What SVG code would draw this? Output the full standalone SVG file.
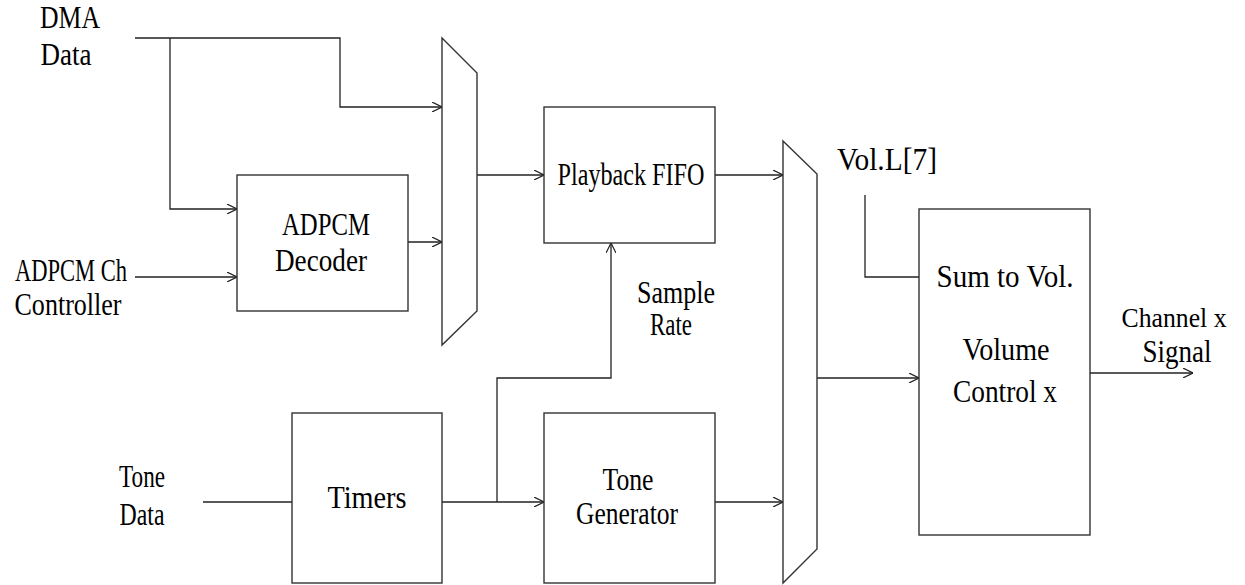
<svg xmlns="http://www.w3.org/2000/svg" width="1245" height="585" viewBox="0 0 1245 585">
<style>
.box{fill:#fff;stroke:#333;stroke-width:1.4}
.ln{fill:none;stroke:#222;stroke-width:1.3}
.t{font-family:"Liberation Serif","Times New Roman",serif;font-size:31px;fill:#000;text-anchor:middle}
.s{font-size:27px}
</style>
<defs>
<marker id="arr" viewBox="0 0 10 10" refX="10" refY="5" markerWidth="10" markerHeight="10" markerUnits="userSpaceOnUse" orient="auto">
<path d="M0,0 L10,5 L0,10" fill="none" stroke="#222" stroke-width="1.2"/>
</marker>
</defs>
<rect width="1245" height="585" fill="#fff"/>
<g id="connectors">
<path class="ln" d="M135,38 H340 V107 H442" marker-end="url(#arr)"/>
<path class="ln" d="M170,38 V209 H237" marker-end="url(#arr)"/>
<path class="ln" d="M135,277 H237" marker-end="url(#arr)"/>
<path class="ln" d="M408,242 H442" marker-end="url(#arr)"/>
<path class="ln" d="M477,175 H544" marker-end="url(#arr)"/>
<path class="ln" d="M715,175 H783" marker-end="url(#arr)"/>
<path class="ln" d="M203,502 H292"/>
<path class="ln" d="M442,502 H544" marker-end="url(#arr)"/>
<path class="ln" d="M497,502 V378 H611 V243" marker-end="url(#arr)"/>
<path class="ln" d="M715,502 H783" marker-end="url(#arr)"/>
<path class="ln" d="M817,378 H919" marker-end="url(#arr)"/>
<path class="ln" d="M865,195 V277 H919"/>
<path class="ln" d="M1090,373 H1193" marker-end="url(#arr)"/>
</g>
<g id="dma-data">
<text class="t" x="70" y="28" textLength="60" lengthAdjust="spacingAndGlyphs">DMA</text>
<text class="t" x="66" y="65" textLength="51" lengthAdjust="spacingAndGlyphs">Data</text>
</g>
<g id="adpcm-ch">
<text class="t" x="71" y="281" textLength="112" lengthAdjust="spacingAndGlyphs">ADPCM Ch</text>
<text class="t" x="68" y="315" textLength="107" lengthAdjust="spacingAndGlyphs">Controller</text>
</g>
<g id="adpcm-decoder">
<rect class="box" x="237" y="175" width="171" height="136"/>
<text class="t" x="326" y="235" textLength="88" lengthAdjust="spacingAndGlyphs">ADPCM</text>
<text class="t" x="321" y="271" textLength="92" lengthAdjust="spacingAndGlyphs">Decoder</text>
</g>
<g id="mux1">
<polygon class="box" points="442,38 477,73 477,311 442,345"/>
</g>
<g id="playback-fifo">
<rect class="box" x="544" y="107" width="171" height="136"/>
<text class="t" x="631" y="185" textLength="147" lengthAdjust="spacingAndGlyphs">Playback FIFO</text>
</g>
<g id="sample-rate">
<text class="t" x="676" y="303" textLength="78" lengthAdjust="spacingAndGlyphs">Sample</text>
<text class="t" x="671" y="335" textLength="42" lengthAdjust="spacingAndGlyphs">Rate</text>
</g>
<g id="tone-data">
<text class="t" x="142" y="487" textLength="46" lengthAdjust="spacingAndGlyphs">Tone</text>
<text class="t" x="142" y="525" textLength="45" lengthAdjust="spacingAndGlyphs">Data</text>
</g>
<g id="timers">
<rect class="box" x="292" y="413" width="150" height="170"/>
<text class="t" x="367" y="508" textLength="79" lengthAdjust="spacingAndGlyphs">Timers</text>
</g>
<g id="tone-generator">
<rect class="box" x="544" y="413" width="171" height="170"/>
<text class="t" x="628" y="490" textLength="51" lengthAdjust="spacingAndGlyphs">Tone</text>
<text class="t" x="627" y="524" textLength="102" lengthAdjust="spacingAndGlyphs">Generator</text>
</g>
<g id="mux2">
<polygon class="box" points="783,141 817,174 817,549 783,583"/>
</g>
<g id="vol-label">
<text class="t" x="887" y="170" textLength="100" lengthAdjust="spacingAndGlyphs">Vol.L[7]</text>
</g>
<g id="volume-control">
<rect class="box" x="919" y="209" width="171" height="326"/>
<text class="t" x="1005" y="287" textLength="137" lengthAdjust="spacingAndGlyphs">Sum to Vol.</text>
<text class="t" x="1006" y="360" textLength="87" lengthAdjust="spacingAndGlyphs">Volume</text>
<text class="t" x="1005" y="402" textLength="104" lengthAdjust="spacingAndGlyphs">Control x</text>
</g>
<g id="channel-signal">
<text class="t s" x="1174" y="327" textLength="105" lengthAdjust="spacingAndGlyphs">Channel x</text>
<text class="t" x="1177" y="362" textLength="69" lengthAdjust="spacingAndGlyphs">Signal</text>
</g>
</svg>
